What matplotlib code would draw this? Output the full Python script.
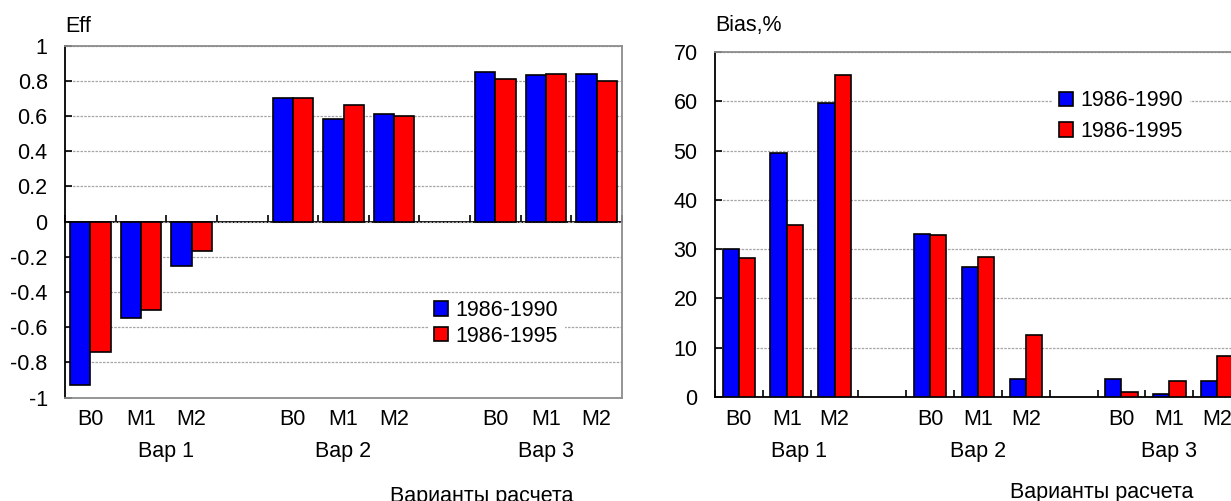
import numpy as np
import matplotlib
matplotlib.use("Agg")
import matplotlib.pyplot as plt
from matplotlib.transforms import blended_transform_factory
from matplotlib.ticker import FuncFormatter

# ---------------- data ----------------
sub_labels = ['B0', 'M1', 'M2', '', 'B0', 'M1', 'M2', '', 'B0', 'M1', 'M2']
group_labels = ['Вар 1', 'Вар 2', 'Вар 3']
series_names = ['1986-1990', '1986-1995']

eff_1990 = [-0.93, -0.55, -0.25, np.nan, 0.70, 0.58, 0.61, np.nan, 0.85, 0.83, 0.84]
eff_1995 = [-0.74, -0.50, -0.17, np.nan, 0.70, 0.66, 0.60, np.nan, 0.81, 0.84, 0.80]
bias_1990 = [30.0, 49.6, 59.6, np.nan, 33.0, 26.4, 3.6, np.nan, 3.6, 0.7, 3.3]
bias_1995 = [28.2, 35.0, 65.3, np.nan, 32.8, 28.5, 12.5, np.nan, 1.1, 3.2, 8.3]

eff_ticks = [-1, -0.8, -0.6, -0.4, -0.2, 0, 0.2, 0.4, 0.6, 0.8, 1]
bias_ticks = [0, 10, 20, 30, 40, 50, 60, 70]

eff_title = 'Eff'
bias_title = 'Bias,%'
x_title = 'Варианты расчета'

# ---------------- style ----------------
plt.rcParams['font.family'] = ['Liberation Sans', 'DejaVu Sans']
plt.rcParams['axes.unicode_minus'] = False
FS = 15.5
BLUE = '#0000ff'
RED = '#ff0000'
GRID = '#a6a6a6'
BORDER = '#8c8c8c'

W, H = 1231, 501
fig = plt.figure(figsize=(W / 100, H / 100), dpi=100)


def px_axes(l, t, r, b):
    return fig.add_axes([l / W, 1 - b / H, (r - l) / W, (b - t) / H])


def fx(px):
    return px / W


def fy(py):
    return 1 - py / H


fmt = FuncFormatter(lambda v, p: '{:g}'.format(round(v, 6)))


def draw_panel(ax, s1, s2, width, ticks, zero_at_bottom):
    x = np.arange(len(sub_labels))
    b1 = ax.bar(x - width / 2, s1, width, color=BLUE, edgecolor='black',
                linewidth=1.2, label=series_names[0], zorder=3)
    b2 = ax.bar(x + width / 2, s2, width, color=RED, edgecolor='black',
                linewidth=1.2, label=series_names[1], zorder=3)
    ax.set_xlim(-0.5, len(sub_labels) - 0.5)
    ax.set_ylim(ticks[0], ticks[-1])
    ax.set_yticks(ticks)
    ax.yaxis.set_major_formatter(fmt)
    ax.yaxis.grid(True, color=GRID, linestyle=(0, (2, 1)), linewidth=0.9, zorder=0)
    ax.set_axisbelow(True)
    ax.tick_params(axis='y', direction='in', length=5, width=1.2,
                   labelsize=FS, pad=12.5)
    ax.set_xticks(x, sub_labels)
    ax.tick_params(axis='x', which='major', length=0, labelsize=FS, pad=8.5)
    for s in ('top', 'right'):
        ax.spines[s].set_color(BORDER)
        ax.spines[s].set_linewidth(1.3)
    ax.spines['left'].set_color('black')
    ax.spines['left'].set_linewidth(1.3)
    bounds = np.arange(len(sub_labels) + 1) - 0.5
    if zero_at_bottom:
        ax.spines['bottom'].set_color('black')
        ax.spines['bottom'].set_linewidth(1.3)
        ax.set_xticks(bounds, minor=True)
        ax.tick_params(axis='x', which='minor', direction='in', length=5, width=1.2)
    else:
        ax.spines['bottom'].set_color(BORDER)
        ax.spines['bottom'].set_linewidth(1.3)
        sec = ax.secondary_xaxis(0, transform=ax.transData)
        sec.set_xticks(bounds)
        sec.tick_params(axis='x', direction='in', length=5, width=1.2,
                        labelbottom=False, labeltop=False)
        sec.spines['bottom'].set_color('black')
        sec.spines['bottom'].set_linewidth(1.3)
    return b1, b2


# ---------------- left panel ----------------
axL = px_axes(65, 45.5, 622, 397.5)
hL = draw_panel(axL, eff_1990, eff_1995, 0.40, eff_ticks, zero_at_bottom=False)

# ---------------- right panel ----------------
axR = px_axes(715, 52, 1241, 397)
hR = draw_panel(axR, bias_1990, bias_1995, 0.34, bias_ticks, zero_at_bottom=True)

# axis titles
fig.text(fx(65), fy(27), eff_title, fontsize=FS, ha='left', va='center')
fig.text(fx(715), fy(25), bias_title, fontsize=FS, ha='left', va='center')

# group labels
for ax, xs in ((axL, [1.5, 5.0, 9.0]), (axR, [1.25, 5.0, 9.0])):
    tr = blended_transform_factory(ax.transData, fig.transFigure)
    for gx, g in zip(xs, group_labels):
        ax.text(gx, fy(452), g, transform=tr, fontsize=FS, ha='center', va='center')

# overall x titles
fig.text(fx(482), fy(486), x_title, fontsize=FS, ha='center', va='top')
fig.text(fx(1102), fy(482), x_title, fontsize=FS, ha='center', va='top')

# legends
BP = 0.3
for ax, handles, hx, top, ls in ((axL, hL, 434, 293.5, 0.22), (axR, hR, 1059, 84.0, 0.45)):
    leg = ax.legend(handles, series_names, loc='upper left',
                    bbox_to_anchor=(fx(hx - BP * FS * 100 / 72), fy(top)),
                    bbox_transform=fig.transFigure, borderaxespad=0,
                    frameon=True, fancybox=False, facecolor='white',
                    edgecolor='none', framealpha=1, borderpad=BP,
                    handlelength=0.65, handleheight=0.65, handletextpad=0.35,
                    labelspacing=ls, fontsize=FS)
    leg.set_zorder(5)

fig.savefig('out.png', dpi=100)
